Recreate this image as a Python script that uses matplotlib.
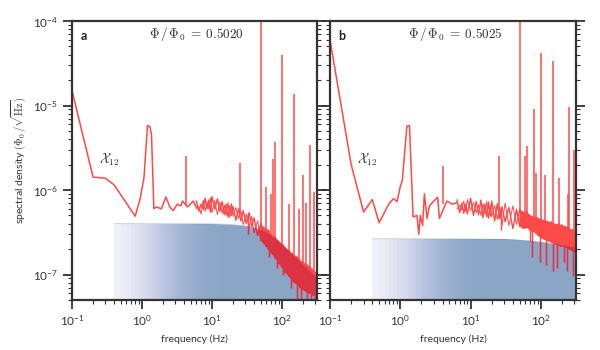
import numpy as np
import matplotlib
matplotlib.use("Agg")
import matplotlib.pyplot as plt
from matplotlib.colors import LinearSegmentedColormap
from matplotlib.patches import Polygon

plt.rcParams['font.family'] = ['Lato', 'DejaVu Sans']
plt.rcParams['mathtext.fontset'] = 'cm'

# ---- panel a : Phi/Phi0 = 0.5020 ----
a_line_f = [0.1, 0.2, 0.3, 0.4, 0.8, 0.94, 1.07, 1.2, 1.3, 1.37, 1.48, 1.6, 1.9, 2.2, 2.5,
            2.8, 3.2, 3.6, 3.8, 4.5, 5.4, 6.0]
a_line_v = [1.5e-5, 1.42e-6, 1.38e-6, 1.15e-6, 4.9e-7, 7.8e-7, 1.4e-6, 5.8e-6, 5.6e-6, 4.5e-6,
            6.0e-7, 6.3e-7, 6.0e-7, 8.3e-7, 6.3e-7, 5.7e-7, 6.8e-7, 6.5e-7, 7.4e-7, 6.3e-7,
            7.4e-7, 6.2e-7]
a_band_f = [6, 6.5, 7, 7.5, 8, 8.5, 9, 9.5, 10, 11, 12, 13, 14, 15, 16, 17, 18, 19, 20, 22,
            24, 26, 28, 31, 34, 37, 40, 45, 50, 56, 63, 70, 80, 90, 100, 112, 125, 140, 160,
            180, 200, 225, 250, 280, 316]
a_band_hi = [7.4e-7, 6.4e-7, 6.8e-7, 7.6e-7, 8.0e-7, 7.2e-7, 7.6e-7, 8.1e-7, 8.4e-7, 7.5e-7,
             7.9e-7, 7.2e-7, 7.3e-7, 6.6e-7, 6.8e-7, 7.1e-7, 6.5e-7, 6.9e-7, 6.4e-7, 6.2e-7,
             6.0e-7, 5.6e-7, 5.7e-7, 5.2e-7, 5.4e-7, 4.9e-7, 4.7e-7, 4.3e-7, 4.0e-7, 3.6e-7,
             3.4e-7, 3.0e-7, 2.8e-7, 2.5e-7, 2.3e-7, 2.1e-7, 1.95e-7, 1.8e-7, 1.65e-7, 1.5e-7,
             1.42e-7, 1.32e-7, 1.25e-7, 1.15e-7, 1.05e-7]
a_band_lo = [6.0e-7, 5.6e-7, 5.2e-7, 5.9e-7, 5.6e-7, 6.0e-7, 6.0e-7, 5.5e-7, 5.4e-7, 5.9e-7,
             5.1e-7, 5.6e-7, 5.3e-7, 5.1e-7, 5.0e-7, 4.8e-7, 4.7e-7, 5.0e-7, 4.9e-7, 4.4e-7,
             4.6e-7, 4.3e-7, 3.9e-7, 4.0e-7, 3.6e-7, 3.7e-7, 3.1e-7, 2.9e-7, 2.5e-7, 2.3e-7,
             2.0e-7, 1.8e-7, 1.55e-7, 1.35e-7, 1.2e-7, 1.05e-7, 9.5e-8, 8.5e-8, 7.8e-8, 7.0e-8,
             6.6e-8, 6.2e-8, 6.0e-8, 5.7e-8, 5.5e-8]
a_spike_f = [4.2, 25, 50, 60, 71, 75, 80, 100, 125, 150, 175, 200, 220, 250, 285]
a_spike_v = [2.5e-6, 2.1e-6, 2e-4, 1.1e-6, 9e-7, 2.3e-6, 3.7e-6, 4e-5, 6.8e-7, 1.38e-5,
             6e-7, 1.5e-6, 7e-7, 3.4e-6, 9.5e-7]
a_spike_base = [6.5e-7, 5e-7, 2.5e-7, 2.1e-7, 1.8e-7, 1.7e-7, 1.6e-7, 1.2e-7, 9.5e-8, 8e-8,
                7.5e-8, 6.6e-8, 6.3e-8, 6e-8, 5.6e-8]
a_dip_f = [33, 65, 85, 105, 135, 165, 190, 230, 265, 300]
a_dip_v = [3.0e-7, 1.6e-7, 1.2e-7, 1.0e-7, 7e-8, 5.2e-8, 5e-8, 5e-8, 5e-8, 5e-8]
a_fit_f = [0.4, 1, 3, 10, 20, 30, 40, 50, 60, 70, 85, 100, 125, 150, 200, 250, 316]
a_fit_v = [4.0e-7, 4.0e-7, 4.0e-7, 3.98e-7, 3.9e-7, 3.75e-7, 3.6e-7, 3.4e-7, 3.15e-7, 2.9e-7,
           2.55e-7, 2.25e-7, 1.9e-7, 1.65e-7, 1.3e-7, 1.1e-7, 9.0e-8]

# ---- panel b : Phi/Phi0 = 0.5025 ----
b_line_f = [0.1, 0.2, 0.3, 0.4, 0.5, 0.6, 0.7, 0.8, 0.9, 1.0, 1.07, 1.24, 1.35, 1.52, 1.73,
            1.83, 1.93, 2.08, 2.2, 2.4, 2.6, 3.0, 3.4, 3.6, 4.6, 5.5, 6.4]
b_line_v = [6.0e-5, 2.0e-6, 5.5e-7, 7.7e-7, 4.1e-7, 5.5e-7, 7.0e-7, 7.9e-7, 7.3e-7, 1.1e-6,
            1.3e-6, 5.7e-6, 5.8e-6, 4.8e-7, 5.0e-7, 3.0e-7, 5.0e-7, 3.8e-7, 9.0e-7, 4.6e-7,
            6.5e-7, 7.4e-7, 8.2e-7, 4.6e-7, 7.4e-7, 6.8e-7, 7.1e-7]
b_band_f = [6.4, 7, 7.5, 8, 8.5, 9, 10, 11, 12, 13, 14, 15, 16, 17, 18, 19, 20, 22, 24, 26,
            28, 31, 35, 40, 45, 50, 56, 63, 70, 80, 90, 100, 112, 125, 140, 160, 180, 200,
            225, 250, 280, 316]
b_band_hi = [7.6e-7, 6.6e-7, 7.0e-7, 7.4e-7, 6.8e-7, 7.7e-7, 8.0e-7, 7.1e-7, 7.3e-7, 6.7e-7,
             7.6e-7, 6.9e-7, 6.8e-7, 7.3e-7, 7.2e-7, 6.6e-7, 7.4e-7, 6.5e-7, 6.9e-7, 6.3e-7,
             6.3e-7, 7.0e-7, 6.2e-7, 6.5e-7, 5.9e-7, 6.0e-7, 5.5e-7, 5.6e-7, 5.0e-7, 4.9e-7,
             4.7e-7, 4.6e-7, 4.4e-7, 4.3e-7, 4.2e-7, 4.0e-7, 4.0e-7, 3.9e-7, 3.7e-7, 3.6e-7,
             3.4e-7, 3.3e-7]
b_band_lo = [6.0e-7, 5.4e-7, 5.8e-7, 5.3e-7, 5.6e-7, 5.2e-7, 5.7e-7, 5.0e-7, 5.4e-7, 5.1e-7,
             5.0e-7, 4.7e-7, 5.2e-7, 4.8e-7, 4.6e-7, 4.9e-7, 4.8e-7, 4.3e-7, 4.5e-7, 4.6e-7,
             3.8e-7, 4.2e-7, 3.8e-7, 3.5e-7, 3.9e-7, 3.7e-7, 3.5e-7, 3.6e-7, 3.3e-7, 3.2e-7,
             2.9e-7, 2.7e-7, 2.6e-7, 2.5e-7, 2.4e-7, 2.3e-7, 2.2e-7, 2.2e-7, 2.1e-7, 2.0e-7,
             1.9e-7, 1.8e-7]
b_spike_f = [4.1, 25, 50, 60, 63, 80, 85, 100, 115, 150, 180, 240, 250, 300]
b_spike_v = [1.9e-6, 2.5e-6, 2e-4, 2.5e-6, 3.3e-6, 9e-6, 1.6e-6, 4.2e-5, 1.5e-6, 3.4e-5,
             1.4e-6, 9e-7, 9.6e-6, 3e-6]
b_spike_base = [6.8e-7, 4.6e-7, 3.7e-7, 3.6e-7, 3.6e-7, 3.2e-7, 3.0e-7, 2.7e-7, 2.6e-7,
                2.4e-7, 2.2e-7, 2.0e-7, 2.0e-7, 1.9e-7]
b_dip_f = [27, 70, 75, 96, 120, 150, 170, 215, 235, 288]
b_dip_v = [3.4e-7, 2.5e-7, 1.6e-7, 1.4e-7, 1.3e-7, 1.1e-7, 1.2e-7, 1.4e-7, 1.1e-7, 9.5e-8]
b_fit_f = [0.4, 1, 3, 10, 20, 30, 50, 70, 100, 150, 200, 250, 316]
b_fit_v = [2.65e-7, 2.65e-7, 2.65e-7, 2.64e-7, 2.62e-7, 2.6e-7, 2.55e-7, 2.5e-7, 2.4e-7,
           2.3e-7, 2.22e-7, 2.14e-7, 2.06e-7]

titles = [r'$\Phi\,/\,\Phi_0\;=\;0.5020$', r'$\Phi\,/\,\Phi_0\;=\;0.5025$']
letters = ['a', 'b']

RED = '#ff4a4a'
CRIMSON = '#dc3343'
SPINE = '#333333'
XMIN, XMAX = 0.1, 316
YMIN, YMAX = 5e-8, 1e-4
SOLID_FROM = 50  # above this the noise trace is dense enough to look solid

blue_cmap = LinearSegmentedColormap.from_list(
    'fitblue', ['#f3f3f9', '#b6c0de', '#8aa5c6'])


def red_layer(ax, color, clip, line_f, line_v, band_f, hi, lo,
              sp_f, sp_v, sp_b, dip_f, dip_v, dip_top):
    bf = np.array(band_f)
    # noisy trace: alternate between the upper and lower envelope readings
    zig1 = [h if i % 2 == 0 else l for i, (h, l) in enumerate(zip(hi, lo))]
    zig2 = [l if i % 2 == 0 else h for i, (h, l) in enumerate(zip(hi, lo))]
    arts = []
    arts += ax.plot(line_f, line_v, color=color, lw=1.1)
    arts += ax.plot(band_f, zig1, color=color, lw=1.0)
    arts += ax.plot(band_f, zig2, color=color, lw=0.7)
    arts.append(ax.fill_between(band_f, lo, hi, where=bf >= SOLID_FROM,
                                color=color, lw=0))
    arts.append(ax.vlines(sp_f, sp_b, sp_v, color=color, lw=1.1))
    arts.append(ax.vlines(dip_f, dip_v, dip_top, color=color, lw=1.0))
    for art in arts:
        art.set_zorder(2 if clip is None else 3)
        if clip is not None:
            art.set_clip_path(clip)


def draw_panel(ax, line_f, line_v, band_f, hi, lo, sp_f, sp_v, sp_b,
               dip_f, dip_v, fit_f, fit_v, title, letter):
    ax.set_xscale('log')
    ax.set_yscale('log')

    # gradient-shaded fit region, built from strips every 0.1 Hz
    edges = np.arange(0.4, XMAX + 0.05, 0.1)
    k = np.arange(1, len(edges))
    shade = 1 - (1 - 0.035) ** k
    mesh = ax.pcolormesh(edges, [YMIN, 1e-6], shade[None, :], cmap=blue_cmap,
                         vmin=0, vmax=1, shading='flat', zorder=1)
    verts = np.column_stack([list(fit_f) + [XMAX, fit_f[0]],
                             list(fit_v) + [YMIN, YMIN]])
    poly = Polygon(verts, closed=True, transform=ax.transData,
                   facecolor='none', edgecolor='none')
    ax.add_patch(poly)
    mesh.set_clip_path(poly)
    ax.plot(fit_f, fit_v, color='#6f84a8', lw=0.6, alpha=0.4, zorder=1.5)

    # dips reach up to the nearest upper-envelope value
    dip_top = [hi[int(np.argmin(np.abs(np.log(np.array(band_f) / f))))] for f in dip_f]

    red_layer(ax, RED, None, line_f, line_v, band_f, hi, lo,
              sp_f, sp_v, sp_b, dip_f, dip_v, dip_top)
    red_layer(ax, CRIMSON, poly, line_f, line_v, band_f, hi, lo,
              sp_f, sp_v, sp_b, dip_f, dip_v, dip_top)

    ax.set_xlim(XMIN, XMAX)
    ax.set_ylim(YMIN, YMAX)

    for sp in ax.spines.values():
        sp.set_color(SPINE)
        sp.set_linewidth(1.6)
        sp.set_zorder(5)
    ax.tick_params(which='both', direction='out', top=False, right=True,
                   left=True, bottom=True, colors=SPINE, labelsize=8.5)
    ax.tick_params(which='major', length=6.5, width=1.3)
    ax.tick_params(which='minor', length=3, width=0.8)

    ax.set_xlabel('frequency (Hz)', fontsize=7.5, color='#333333')
    ax.text(0.51, 0.955, title, transform=ax.transAxes, ha='center', va='center',
            fontsize=9.5, color='#333333', zorder=6)
    ax.text(0.035, 0.945, letter, transform=ax.transAxes, ha='left', va='center',
            fontsize=9, fontweight='bold', color='#222222', zorder=6)
    ax.text(0.34, 2.3e-6, r'$\mathcal{X}_{12}$', ha='center', va='center',
            fontsize=9.5, color='#333333', zorder=6)


fig = plt.figure(figsize=(6, 3.5), dpi=100)
ax_a = fig.add_axes([0.12, 0.143, 0.408, 0.797])
ax_b = fig.add_axes([0.55, 0.143, 0.41, 0.797])

draw_panel(ax_a, a_line_f, a_line_v, a_band_f, a_band_hi, a_band_lo,
           a_spike_f, a_spike_v, a_spike_base, a_dip_f, a_dip_v,
           a_fit_f, a_fit_v, titles[0], letters[0])
draw_panel(ax_b, b_line_f, b_line_v, b_band_f, b_band_hi, b_band_lo,
           b_spike_f, b_spike_v, b_spike_base, b_dip_f, b_dip_v,
           b_fit_f, b_fit_v, titles[1], letters[1])

ax_a.set_ylabel(r'spectral density $(\Phi_0\,/\sqrt{\mathrm{Hz}})$', fontsize=7.5,
                color='#333333')
ax_b.tick_params(labelleft=False)

fig.savefig('out.png', dpi=100)
